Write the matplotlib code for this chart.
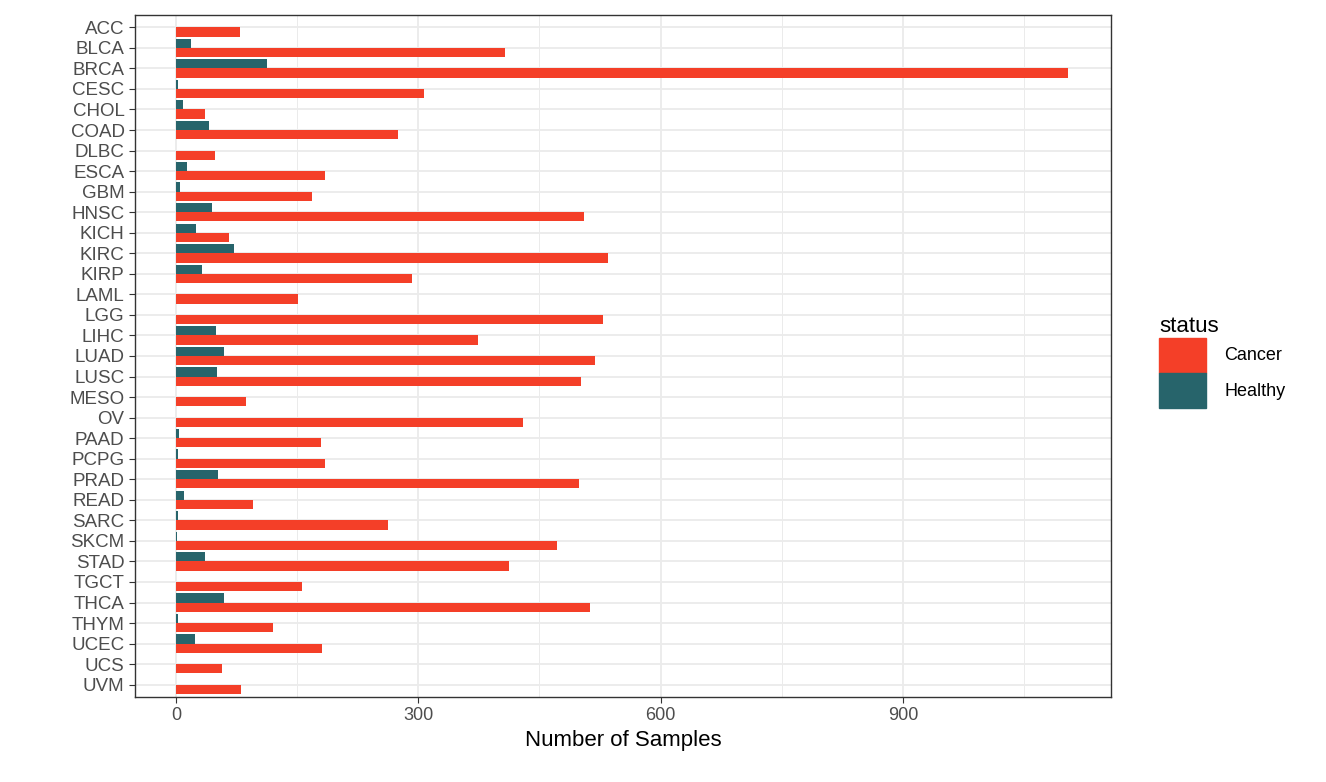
import matplotlib.pyplot as plt
import matplotlib.patches as mpatches
import numpy as np

plt.rcParams['font.family'] = ['Liberation Sans', 'DejaVu Sans']

cancer_types = ['ACC', 'BLCA', 'BRCA', 'CESC', 'CHOL', 'COAD', 'DLBC', 'ESCA', 'GBM', 'HNSC',
                'KICH', 'KIRC', 'KIRP', 'LAML', 'LGG', 'LIHC', 'LUAD', 'LUSC', 'MESO', 'OV',
                'PAAD', 'PCPG', 'PRAD', 'READ', 'SARC', 'SKCM', 'STAD', 'TGCT', 'THCA', 'THYM',
                'UCEC', 'UCS', 'UVM']
cancer = [79, 407, 1104, 307, 36, 275, 48, 185, 168, 505,
          66, 535, 292, 151, 529, 374, 519, 502, 87, 429,
          179, 184, 499, 95, 263, 472, 412, 156, 513, 120,
          181, 57, 80]
healthy = [0, 19, 113, 3, 9, 41, 0, 13, 5, 44,
           25, 72, 32, 0, 0, 50, 59, 51, 0, 0,
           4, 3, 52, 10, 2, 1, 36, 0, 59, 2,
           24, 0, 0]

red = '#F43F28'
teal = '#27646B'

fig = plt.figure(figsize=(13.26, 7.82), dpi=100)
ax = fig.add_axes([135/1326, 1 - 697/782, (1111-135)/1326, (697-15)/782])

n = len(cancer_types)
y = np.arange(n)[::-1]
h = 0.45
ax.barh(y - h/2, cancer, height=h, color=red, zorder=3)
ax.barh(y + h/2, healthy, height=h, color=teal, zorder=3)

ax.set_xlim(-50.8, 1157.6)
ax.set_ylim(-0.6, n - 1 + 0.6)
ax.set_yticks(y)
ax.set_yticklabels(cancer_types, fontsize=13.5, color='#4D4D4D')
ax.set_xticks([0, 300, 600, 900])
ax.set_xticks([150, 450, 750, 1050], minor=True)
ax.tick_params(axis='x', labelsize=13, labelcolor='#4D4D4D')
ax.tick_params(which='both', color='#333333', length=4)
ax.tick_params(which='minor', length=0)
ax.grid(axis='x', which='major', color='#EBEBEB', lw=1.3, zorder=0)
ax.grid(axis='x', which='minor', color='#EBEBEB', lw=0.7, zorder=0)
ax.grid(axis='y', color='#EBEBEB', lw=1.3, zorder=0)
for s in ax.spines.values():
    s.set_color('#333333')
    s.set_linewidth(1)
ax.set_xlabel('Number of Samples', fontsize=16)

handles = [mpatches.Patch(color=red, label='Cancer'), mpatches.Patch(color=teal, label='Healthy')]
leg = fig.legend(handles=handles, title='status', loc='center left',
                 bbox_to_anchor=(1143/1326, 1 - 362/782), frameon=False,
                 fontsize=13, title_fontsize=16, handlelength=2.6, handleheight=2.6,
                 labelspacing=0.05, handletextpad=1.0)
leg._legend_box.align = 'left'

fig.savefig('out.png', dpi=100)
